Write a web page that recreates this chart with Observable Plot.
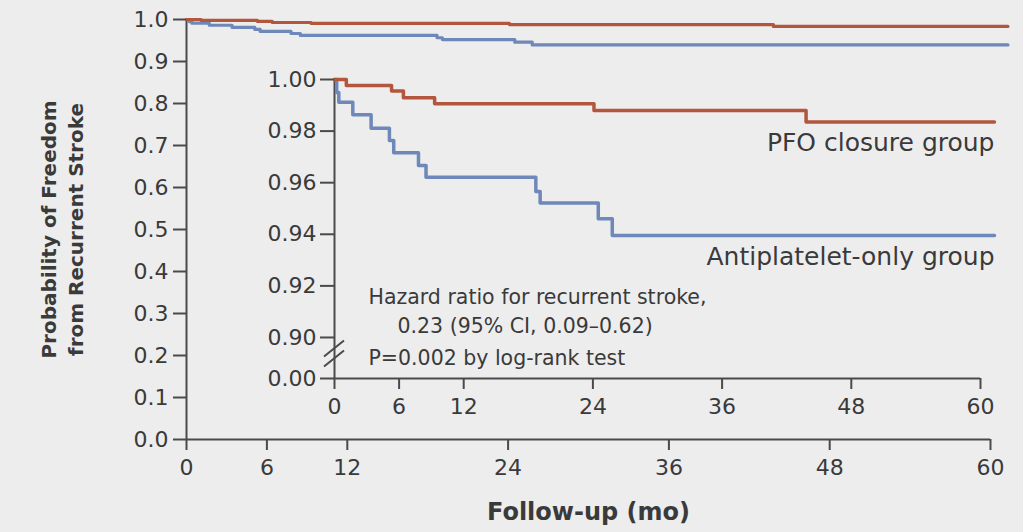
<!DOCTYPE html>
<html>
<head>
<meta charset="utf-8">
<script src="https://cdn.jsdelivr.net/npm/d3@7"></script>
<script src="https://cdn.jsdelivr.net/npm/@observablehq/plot@0.6"></script>
<style>
html, body { margin: 0; padding: 0; background: #ededed; }
#chart { position: relative; width: 1023px; height: 532px; overflow: hidden; }
#chart svg { position: absolute; left: 0; top: 0; }
</style>
</head>
<body>
<div id="chart"></div>
<script>
// ---- data ----
const monthTicks = [0, 6, 12, 24, 36, 48, 60];
const mainYTicks = [0, 0.1, 0.2, 0.3, 0.4, 0.5, 0.6, 0.7, 0.8, 0.9, 1.0];
const insetYTicks = [0, 0.90, 0.92, 0.94, 0.96, 0.98, 1.00];
const groups = ["PFO closure group", "Antiplatelet-only group"];

const pfoMonths   = [0, 1.1, 5.3, 6.4, 9.3, 24.1, 43.8, 61.3];
const pfoSurvival = [1.0, 0.9977, 0.9955, 0.9929, 0.9906, 0.9880, 0.9835, 0.9835];

const antiMonths   = [0, 0.2, 0.4, 1.7, 3.4, 5.1, 5.5, 7.8, 8.5, 18.7, 19.1, 24.5, 25.8, 61.3];
const antiSurvival = [1.0, 0.995, 0.9912, 0.9863, 0.9811, 0.9764, 0.9716, 0.9667, 0.9621, 0.9566, 0.9521, 0.9460, 0.9395, 0.9395];

const noteLines = ["Hazard ratio for recurrent stroke,", "0.23 (95% CI, 0.09\u20130.62)", "P=0.002 by log-rank test"];
const yLabelLines = ["Probability of Freedom", "from Recurrent Stroke"];
const xLabel = "Follow-up (mo)";

// ---- styles ----
const FONT = "'DejaVu Sans', sans-serif";
const lineColors = ["#b2573e", "#6e88b9"];
const axisColor = "#4a4a4a";
const textColor = "#3a3a3a";

const rows = [
  ...antiMonths.map((m, i) => ({group: groups[1], month: m, surv: antiSurvival[i]})),
  ...pfoMonths.map((m, i) => ({group: groups[0], month: m, surv: pfoSurvival[i]}))
];

const baseStyle = {background: "transparent", color: textColor, fontFamily: FONT, overflow: "visible"};

const main = Plot.plot({
  width: 1023, height: 532,
  marginLeft: 186, marginRight: 33, marginTop: 19, marginBottom: 93,
  style: baseStyle,
  x: {domain: [0, 60]},
  y: {domain: [0, 1]},
  color: {domain: groups, range: lineColors},
  marks: [
    Plot.ruleX([0], {stroke: axisColor, strokeWidth: 2}),
    Plot.ruleY([0], {stroke: axisColor, strokeWidth: 2}),
    Plot.line(rows, {x: "month", y: "surv", z: "group", stroke: "group", curve: "step-after", strokeWidth: 3.2}),
    Plot.axisX({ticks: monthTicks, tickSize: 11, tickPadding: 9, fontSize: 22, label: null, stroke: axisColor, strokeWidth: 2}),
    Plot.axisY({ticks: mainYTicks, tickFormat: ".1f", tickSize: 13, tickPadding: 5, fontSize: 22, label: null, stroke: axisColor, strokeWidth: 2}),
    Plot.text([yLabelLines.join("\n")], {text: d => d, frameAnchor: "left", textAnchor: "middle", dx: -125.5, rotate: -90, fontSize: 20, fontWeight: "bold", lineHeight: 1.35, fill: textColor}),
    Plot.text([xLabel], {text: d => d, frameAnchor: "bottom", dy: 80, fontSize: 24, fontWeight: "bold", fill: textColor})
  ]
});

// Broken inset axis: values below 0.90 are compressed into a short gap under 0.90
const BREAK = 0.9, GAP = 0.0159;
const brk = v => v >= BREAK ? v : BREAK - GAP * (BREAK - v) / BREAK;
const unbrk = p => {
  const v = p >= BREAK - 1e-9 ? p : BREAK - (BREAK - p) * BREAK / GAP;
  return Math.abs(v) < 1e-6 ? 0 : v;
};

const breakMark = (index, scales) => {
  const g = d3.create("svg:g").attr("stroke", axisColor).attr("stroke-width", 2);
  const x0 = scales.x(0);
  const yc = (scales.y(brk(0)) + scales.y(BREAK)) / 2 - 4;
  for (const off of [-5, 5]) {
    g.append("line")
      .attr("x1", x0 - 10).attr("y1", yc + off + 8)
      .attr("x2", x0 + 10).attr("y2", yc + off - 8);
  }
  return g.node();
};

const insetRows = rows.map(d => ({...d, pos: brk(d.surv)}));

const inset = Plot.plot({
  width: 1023, height: 532,
  marginLeft: 334, marginRight: 43, marginTop: 79, marginBottom: 154,
  style: baseStyle,
  x: {domain: [0, 60]},
  y: {domain: [brk(0), 1.0]},
  color: {domain: groups, range: lineColors},
  marks: [
    Plot.ruleX([0], {stroke: axisColor, strokeWidth: 2}),
    Plot.ruleY([brk(0)], {stroke: axisColor, strokeWidth: 2}),
    breakMark,
    Plot.line(insetRows, {x: "month", y: "pos", z: "group", stroke: "group", curve: "step-after", strokeWidth: 3.5}),
    Plot.text(insetRows, Plot.selectLast({x: "month", y: "pos", z: "group", text: "group", textAnchor: "end", lineAnchor: "bottom", dy: 29, fontSize: 25, fill: textColor})),
    Plot.axisX({ticks: monthTicks, tickSize: 11, tickPadding: 9, fontSize: 22, label: null, stroke: axisColor, strokeWidth: 2}),
    Plot.axisY({ticks: insetYTicks.map(brk), tickFormat: p => unbrk(p).toFixed(2), tickSize: 14, tickPadding: 4, fontSize: 22, label: null, stroke: axisColor, strokeWidth: 2}),
    Plot.text([noteLines[0]], {text: d => d, frameAnchor: "bottom-left", textAnchor: "start", lineAnchor: "bottom", dx: 34, dy: -75, fontSize: 20.5, fill: textColor}),
    Plot.text([noteLines[1]], {text: d => d, frameAnchor: "bottom-left", textAnchor: "start", lineAnchor: "bottom", dx: 63, dy: -46, fontSize: 20.5, fill: textColor}),
    Plot.text([noteLines[2]], {text: d => d, frameAnchor: "bottom-left", textAnchor: "start", lineAnchor: "bottom", dx: 34, dy: -14, fontSize: 20.5, fill: textColor})
  ]
});

const chart = document.getElementById("chart");
chart.append(main);
chart.append(inset);
</script>
</body>
</html>
